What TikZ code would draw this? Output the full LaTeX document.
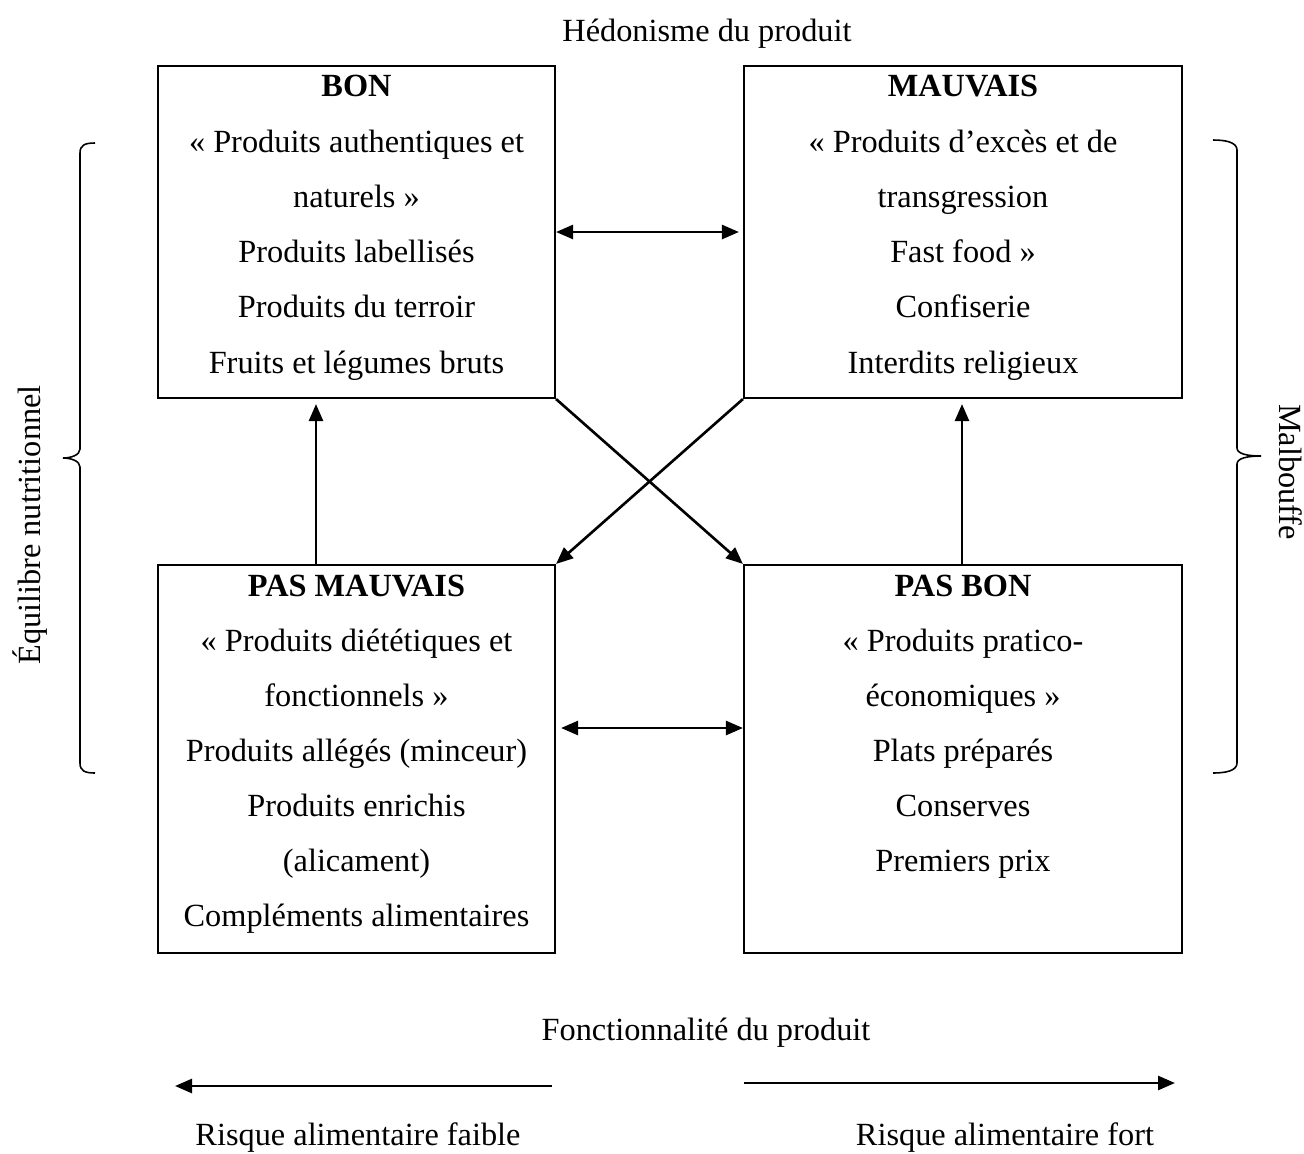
\documentclass[tikz,border=0pt]{standalone}
\usepackage{fontspec}
\setmainfont{Liberation Serif}
\usepackage{tikz}
\usetikzlibrary{positioning, calc, arrows.meta}

\begin{document}
\begin{tikzpicture}[
    every node/.style={font=\fontsize{18.4}{22}\selectfont},
    boite/.style={draw, line width=1.2pt, inner sep=0pt},
    fleche/.style={line width=1.5pt, -{Triangle[length=3.4mm, width=2.8mm]}},
    double/.style={line width=1.5pt, {Triangle[length=3.4mm, width=2.8mm]}-{Triangle[length=3.4mm, width=2.8mm]}},
    accolade/.style={line width=0.9pt}
  ]
    \useasboundingbox (0,0) rectangle (26.08,-23.08);

    % les quatre cases
    \node[boite, minimum width=7.94cm, minimum height=6.64cm] (bon) at (7.13,-4.64) {};
    \node[boite, minimum width=8.76cm, minimum height=6.64cm] (mauvais) at (19.26,-4.64) {};
    \node[boite, minimum width=7.94cm, minimum height=7.76cm] (pasmauvais) at (7.13,-15.18) {};
    \node[boite, minimum width=8.76cm, minimum height=7.76cm] (pasbon) at (19.26,-15.18) {};

    \foreach \ligne [count=\i from 0] in {
      \textbf{BON}, « Produits authentiques et, naturels », Produits labellisés,
      Produits du terroir, Fruits et légumes bruts
    }{
      \node[anchor=base] (bon-\i) at ($(bon.north)+(0,-0.64-1.105*\i)$) {\ligne};
    }
    \foreach \ligne [count=\i from 0] in {
      \textbf{MAUVAIS}, « Produits d’excès et de, transgression, Fast food »,
      Confiserie, Interdits religieux
    }{
      \node[anchor=base] (mauvais-\i) at ($(mauvais.north)+(0,-0.64-1.105*\i)$) {\ligne};
    }
    \foreach \ligne [count=\i from 0] in {
      \textbf{PAS MAUVAIS}, « Produits diététiques et, fonctionnels »,
      Produits allégés (minceur), Produits enrichis, (alicament),
      Compléments alimentaires
    }{
      \node[anchor=base] (pasmauvais-\i) at ($(pasmauvais.north)+(0,-0.66-1.1*\i)$) {\ligne};
    }
    \foreach \ligne [count=\i from 0] in {
      \textbf{PAS BON}, « Produits pratico-, économiques », Plats préparés,
      Conserves, Premiers prix
    }{
      \node[anchor=base] (pasbon-\i) at ($(pasbon.north)+(0,-0.66-1.1*\i)$) {\ligne};
    }

    % fleches entre les cases
    \draw[double, shorten >=0.08cm] (bon.east) -- (mauvais.west);
    \draw[double, shorten <=0.1cm] ([yshift=0.62cm]pasmauvais.east) -- ([yshift=0.62cm]pasbon.west);
    \draw[fleche, shorten >=0.1cm] ([xshift=-0.81cm]pasmauvais.north) -- ([xshift=-0.81cm]bon.south);
    \draw[fleche, shorten >=0.1cm] ([xshift=-0.02cm]pasbon.north) -- ([xshift=-0.02cm]mauvais.south);
    \draw[fleche] (bon.south east) -- (pasbon.north west);
    \draw[fleche] (mauvais.south west) -- (pasmauvais.north east);

    % axes
    \node[anchor=base] (hedonisme) at (14.14,-0.82) {Hédonisme du produit};
    \node[anchor=base] (fonction) at (14.12,-20.80) {Fonctionnalité du produit};
    \node[anchor=base] (faible) at (7.16,-22.90) {Risque alimentaire faible};
    \node[anchor=base] (fort) at (20.10,-22.90) {Risque alimentaire fort};
    \coordinate (faible-debut) at (11.04,-21.72);
    \coordinate (faible-fin) at (3.50,-21.72);
    \coordinate (fort-debut) at (14.88,-21.66);
    \coordinate (fort-fin) at (23.50,-21.66);
    \draw[fleche] (faible-debut) -- (faible-fin);
    \draw[fleche] (fort-debut) -- (fort-fin);

    % accolades
    \draw[accolade] (1.90,-2.86) .. controls (1.70,-2.86) and (1.60,-2.90) .. (1.60,-3.06)
      -- (1.60,-8.98) .. controls (1.60,-9.10) and (1.42,-9.16) .. (1.26,-9.16)
      .. controls (1.42,-9.16) and (1.60,-9.22) .. (1.60,-9.34)
      -- (1.60,-15.26) .. controls (1.60,-15.42) and (1.70,-15.46) .. (1.90,-15.46);
    \node[rotate=90] (equilibre) at (0.60,-10.50) {Équilibre nutritionnel};
    \draw[accolade] (24.26,-2.80) .. controls (24.50,-2.80) and (24.74,-2.84) .. (24.74,-3.00)
      -- (24.74,-8.96) .. controls (24.74,-9.08) and (24.96,-9.12) .. (25.22,-9.12)
      .. controls (24.96,-9.12) and (24.74,-9.16) .. (24.74,-9.28)
      -- (24.74,-15.26) .. controls (24.74,-15.42) and (24.50,-15.46) .. (24.26,-15.46);
    \node[rotate=-90] (malbouffe) at (25.82,-9.44) {Malbouffe};
\end{tikzpicture}
\end{document}
